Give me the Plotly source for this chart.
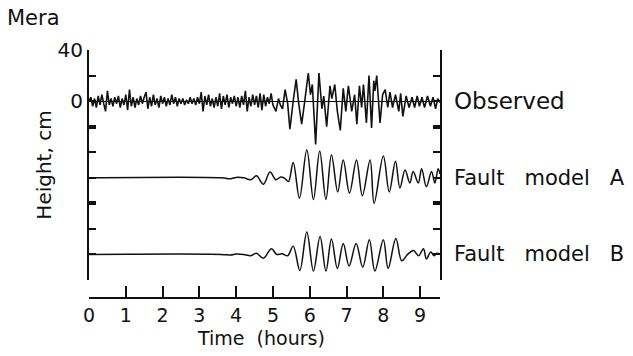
import plotly.graph_objects as go

# ---------------- data ----------------
# Observed record at Mera: background noise part, sampled every 0.05 h from 0 to 5 h
obs_noise_t = [round(0.05 * i, 2) for i in range(101)]
obs_noise_cm = [
    0, 3, -4, 2, -5, 4, -3, 5, -2, -8, 8,
    -3, 2, -4, 3, -2, 4, -5, 2, -3, 5,
    -7, 9, -4, 3, -5, 2, -3, 4, -2, 3,
    7, -6, 3, -4, 5, -3, 2, -5, 4, -2,
    3, -4, 2, -3, 5, -2, 3, -4, 2, -2,
    2, -3, 1, -2, 3, -2, 2, -3, 3, -2,
    7, -8, 4, -3, 5, -4, 2, -5, 3, -4,
    6, -6, 4, -3, 5, -5, 3, -2, 4, -4,
    3, -5, 4, -3, 8, -8, 3, -4, 5, -3,
    4, -5, 6, -7, 5, -4, 3, -2, 6, -3,
]
# Observed record: tsunami part (turning points)
obs_wave_t = [5.08, 5.15, 5.20, 5.26, 5.33, 5.40, 5.46, 5.55, 5.63, 5.70, 5.78, 5.86,
              5.96, 6.02, 6.07, 6.16, 6.25, 6.33, 6.38, 6.46, 6.55, 6.60, 6.68, 6.75,
              6.83, 6.91, 6.98, 7.05, 7.14, 7.22, 7.28, 7.35, 7.41, 7.46, 7.54, 7.61,
              7.68, 7.74, 7.77, 7.82, 7.91, 7.98, 8.05, 8.12, 8.18, 8.25, 8.33, 8.42,
              8.47, 8.53, 8.62, 8.70, 8.78, 8.85, 8.92, 8.98, 9.05, 9.12, 9.20, 9.28,
              9.35, 9.42, 9.48, 9.54]
obs_wave_cm = [-8, 2, -3, -6, 9, -2, -22, 0, 17, -2, -18, -1,
               22, 5, 13, -34, 22, -6, 4, -20, 12, 2, 13, -8,
               -23, 10, -8, 12, -8, 5, -18, 12, -5, 13, -17, 20,
               -21, 16, 8, 20, -17, 5, 9, -5, 7, -5, 5, -8,
               6, -12, 4, -5, 3, -5, 4, -4, 3, -5, 4, -4,
               3, -6, 2, -1]

# Fault model A (turning points)
modelA_t = [0.0, 3.60, 3.85, 4.00, 4.20, 4.40, 4.55, 4.74, 4.92, 5.08, 5.20, 5.32,
            5.42, 5.55, 5.72, 5.92, 6.10, 6.27, 6.44, 6.59, 6.76, 6.91, 7.08, 7.27,
            7.43, 7.64, 7.75, 8.00, 8.16, 8.33, 8.45, 8.59, 8.72, 8.81, 8.95, 9.04,
            9.17, 9.31, 9.40, 9.49, 9.54]
modelA_cm = [0, 0, -0.8, 0.3, 0, -1.5, 1.5, -5, 4.5, -1.5, 0.5, -0.5,
             -3, 12, -16, 22, -17, 21, -17, 18, -11, 14, -12, 14,
             -14, 14, -20, 17, -11, 13, -8, 6, -4, 5, -4, 7,
             -7, 5, -4, 7, 3]

# Fault model B (turning points)
modelB_t = [0.0, 3.60, 3.85, 4.00, 4.20, 4.40, 4.55, 4.74, 4.96, 5.10, 5.25, 5.40,
            5.55, 5.73, 5.92, 6.10, 6.28, 6.44, 6.59, 6.75, 6.91, 7.07, 7.26, 7.44,
            7.62, 7.77, 8.00, 8.13, 8.34, 8.50, 8.66, 8.82, 8.96, 9.09, 9.17, 9.29,
            9.38, 9.45, 9.54]
modelB_cm = [0, 0, -0.5, 0.3, 0, -1, 1, -3, 4.5, 0, 0.5, -1,
             6.5, -12.5, 17.5, -13, 14, -13, 12, -11, 8.5, -9, 8.5, -10,
             11.5, -13, 11.5, -11, 12.5, -5, 0, 3, -1, 4.5, -3.5, 2,
             -1, 1, 0]

offsets_cm = [0, -60, -120]
NB3 = "\u00a0\u00a0\u00a0"
labels = ["Observed", "Fault" + NB3 + "model" + NB3 + "A", "Fault" + NB3 + "model" + NB3 + "B"]
x_ticks = [0, 1, 2, 3, 4, 5, 6, 7, 8, 9]
y_ticks = [40, 20, 0, -20, -40, -60, -80, -100, -120, -140]
y_ticktext = ["40", "", "0", "", "", "", "", "", "", ""]
y_major_marks = [-20, -80]

# ---------------- figure ----------------
FONT = "DejaVu Sans"
INK = "#111111"

fig = go.Figure()

obs_t = obs_noise_t + obs_wave_t
obs_v = [v + offsets_cm[0] for v in obs_noise_cm + obs_wave_cm]
fig.add_trace(go.Scatter(x=obs_t, y=obs_v, mode="lines",
                         line=dict(color=INK, width=1.6), showlegend=False))
fig.add_trace(go.Scatter(x=modelA_t, y=[v + offsets_cm[1] for v in modelA_cm], mode="lines",
                         line=dict(color=INK, width=1.5, shape="spline", smoothing=1.0),
                         showlegend=False))
fig.add_trace(go.Scatter(x=modelB_t, y=[v + offsets_cm[2] for v in modelB_cm], mode="lines",
                         line=dict(color=INK, width=1.5, shape="spline", smoothing=1.0),
                         showlegend=False))
# invisible trace to activate the overlay axis carrying the bold tick marks
fig.add_trace(go.Scatter(x=[0], y=[0], yaxis="y2", mode="markers",
                         marker=dict(opacity=0), showlegend=False, hoverinfo="skip"))

for lab, off, size in zip(labels, offsets_cm, [23, 21, 21]):
    fig.add_annotation(x=1, xref="paper", y=off, yref="y", xanchor="left", yanchor="middle",
                       xshift=12, text=lab, showarrow=False,
                       font=dict(family=FONT, size=size, color=INK))

# x-axis title placed as text just under the tick labels
fig.add_annotation(x=0.49, xref="paper", y=-0.163, yref="paper", xanchor="center",
                   yanchor="middle", text="Time\u00a0\u00a0(hours)", showarrow=False,
                   font=dict(family=FONT, size=19, color=INK))

fig.update_layout(
    width=633, height=356,
    margin=dict(l=89, r=193, t=50, b=58),
    paper_bgcolor="white", plot_bgcolor="white",
    font=dict(family=FONT, size=20, color=INK),
    title=dict(text="Mera", x=7 / 633, xref="container", xanchor="left",
               y=1 - 18 / 356, yref="container", yanchor="middle",
               font=dict(family=FONT, size=21, color=INK)),
    xaxis=dict(range=[0, 9.54], tickvals=x_ticks + [9.54],
               ticktext=[str(v) for v in x_ticks] + [""],
               ticks="inside", ticklen=11, tickwidth=1.6, tickcolor=INK,
               showline=True, linewidth=2, linecolor=INK,
               showgrid=False, zeroline=False, anchor="free", position=0,
               tickfont=dict(family=FONT, size=19, color=INK)),
    yaxis=dict(domain=[0.0726, 1], range=[-140, 40], tickvals=y_ticks, ticktext=y_ticktext,
               ticks="inside", ticklen=7, tickwidth=1.5, tickcolor=INK,
               showline=True, linewidth=2, linecolor=INK, mirror="ticks",
               showgrid=False, zeroline=True, zerolinewidth=1, zerolinecolor=INK,
               tickfont=dict(family=FONT, size=20, color=INK),
               title=dict(text="Height, cm", standoff=1,
                          font=dict(family=FONT, size=20, color=INK))),
    yaxis2=dict(overlaying="y", range=[-140, 40], tickvals=y_major_marks,
                ticks="inside", ticklen=7, tickwidth=4, tickcolor=INK,
                showticklabels=False, showline=True, linewidth=2, linecolor=INK,
                mirror="ticks", showgrid=False, zeroline=False, anchor="x"),
)

fig.write_html("out.html")
